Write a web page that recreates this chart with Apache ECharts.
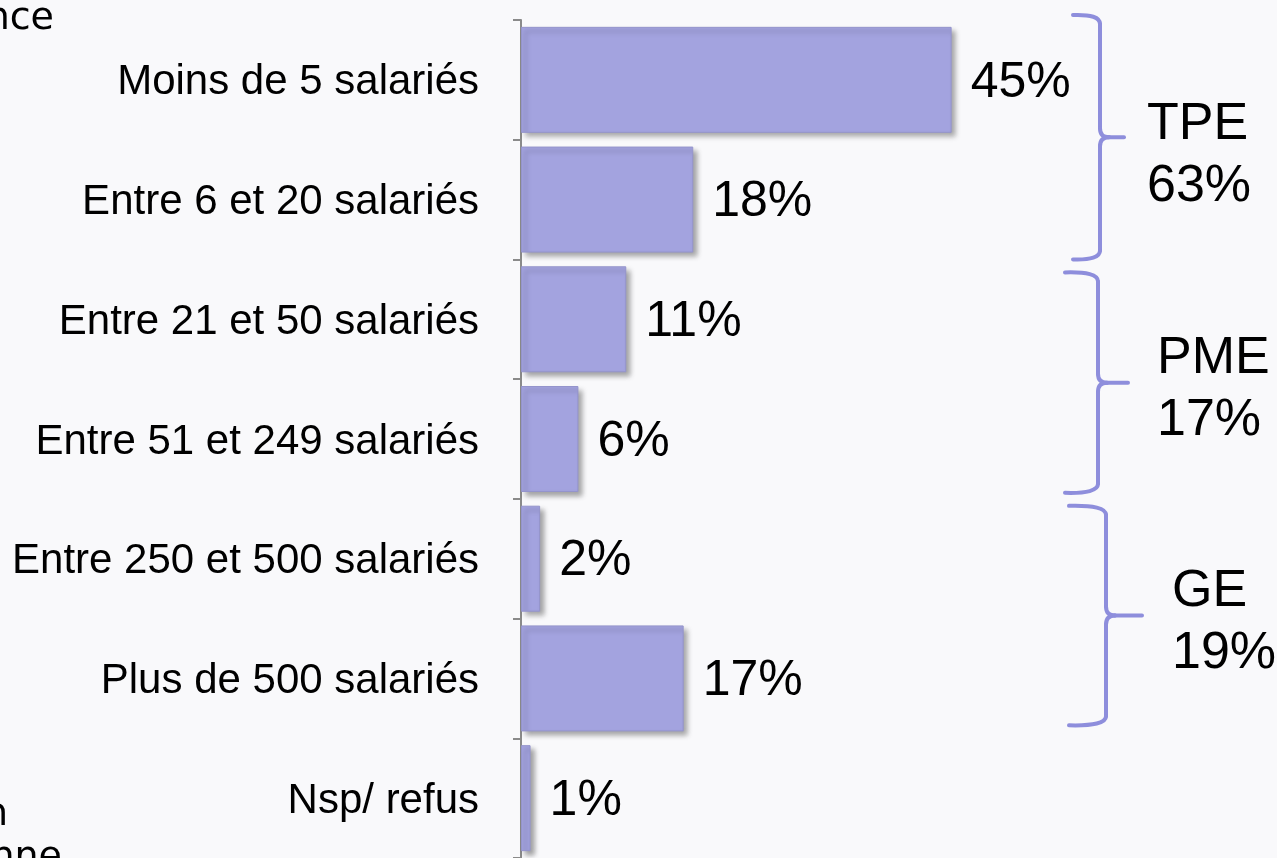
<!DOCTYPE html>
<html><head><meta charset="utf-8">
<script src="https://cdn.jsdelivr.net/npm/echarts@6/dist/echarts.min.js"></script>
<style>html,body{margin:0;padding:0;background:#f9f9fb;overflow:hidden}#c{width:1277px;height:858px}</style>
</head><body><div id="c"></div>
<script>
// ---- data ----
const categories = ['Moins de 5 salariés','Entre 6 et 20 salariés','Entre 21 et 50 salariés','Entre 51 et 249 salariés','Entre 250 et 500 salariés','Plus de 500 salariés','Nsp/ refus'];
const values = [45, 18, 11, 6, 2, 17, 1];
const groupNames = ['TPE', 'PME', 'GE'];
const groupValues = ['63%', '17%', '19%'];
const groupFrom = [0, 2, 4];
const groupTo = [1, 3, 5];
const fragmentTexts = ['nce', 'n', 'anne'];

// ---- layout / style ----
const braceLayout = [
  {x: 1100, hook: 27, tip: 24, insetTop: -5, insetBot: 0, labelX: 1147, dy: 18},
  {x: 1098, hook: 33, tip: 30, insetTop: 13, insetBot: 6, labelX: 1157, dy: 7},
  {x: 1106, hook: 37, tip: 36, insetTop: 7, insetBot: 13, labelX: 1172, dy: 7}
];
const braceColor = '#8e8edc';
const font = '"Liberation Sans", Arial, sans-serif';

const chart = echarts.init(document.getElementById('c'));
chart.setOption({
  backgroundColor: '#f9f9fb',
  animation: false,
  grid: {left: 521, top: 20, right: 0, height: 840, containLabel: false},
  xAxis: {type: 'value', min: 0, max: 79, show: false},
  yAxis: {
    type: 'category', data: categories, inverse: true,
    axisLine: {show: true, lineStyle: {color: '#8a8a8a', width: 2}},
    axisTick: {show: true, length: 8, lineStyle: {color: '#8a8a8a', width: 2}},
    axisLabel: {
      color: '#000', fontSize: 42, fontFamily: font, margin: 42,
      formatter: v => '{a|' + v + '}',
      rich: {a: {color: '#000', fontSize: 42, fontFamily: font, padding: [6, 0, 0, 0]}}
    }
  },
  series: [{
    type: 'bar', data: values, barWidth: 106,
    itemStyle: {
      color: '#a3a3df', borderColor: '#9494cc', borderWidth: 1,
      shadowColor: 'rgba(0,0,0,0.35)', shadowBlur: 5, shadowOffsetX: 4, shadowOffsetY: 4
    },
    label: {show: true, position: 'right', distance: 19, offset: [0, 3], formatter: '{c}%', color: '#000', fontSize: 50, fontFamily: font}
  }]
});

function py(i) { return chart.convertToPixel({yAxisIndex: 0}, i); }
const band = py(1) - py(0);
const graphics = [];
groupNames.forEach((name, g) => {
  const L = braceLayout[g];
  const top = py(groupFrom[g]) - band / 2 + L.insetTop;
  const bot = py(groupTo[g]) + band / 2 - L.insetBot;
  const mid = (top + bot) / 2;
  const x = L.x, r = 9;
  const ls = {stroke: braceColor, lineWidth: 4, fill: null, lineCap: 'round'};
  graphics.push(
    {type: 'bezierCurve', shape: {x1: x - L.hook, y1: top, cpx1: x, cpy1: top - 1, x2: x, y2: top + r}, style: ls},
    {type: 'line', shape: {x1: x, y1: top + r, x2: x, y2: mid - r}, style: ls},
    {type: 'bezierCurve', shape: {x1: x, y1: mid - r, cpx1: x, cpy1: mid, x2: x + r, y2: mid}, style: ls},
    {type: 'line', shape: {x1: x + r, y1: mid, x2: x + L.tip, y2: mid}, style: ls},
    {type: 'bezierCurve', shape: {x1: x + r, y1: mid, cpx1: x, cpy1: mid, x2: x, y2: mid + r}, style: ls},
    {type: 'line', shape: {x1: x, y1: mid + r, x2: x, y2: bot - r}, style: ls},
    {type: 'bezierCurve', shape: {x1: x, y1: bot - r, cpx1: x, cpy1: bot + 1, x2: x - L.hook, y2: bot}, style: ls},
    {type: 'text', x: L.labelX, y: mid + L.dy - 31, style: {text: name, font: '52px ' + font, fill: '#000', textAlign: 'left', textVerticalAlign: 'middle'}},
    {type: 'text', x: L.labelX, y: mid + L.dy + 31, style: {text: groupValues[g], font: '52px ' + font, fill: '#000', textAlign: 'left', textVerticalAlign: 'middle'}}
  );
});
const fragFont = '38px "DejaVu Sans", Verdana, sans-serif';
graphics.push(
  {type: 'text', x: 54, y: 38, style: {text: fragmentTexts[0], font: fragFont, fill: '#000', textAlign: 'right', textVerticalAlign: 'bottom'}},
  {type: 'text', x: 8, y: 834, style: {text: fragmentTexts[1], font: fragFont, fill: '#000', textAlign: 'right', textVerticalAlign: 'bottom'}},
  {type: 'text', x: 62, y: 877, style: {text: fragmentTexts[2], font: fragFont, fill: '#000', textAlign: 'right', textVerticalAlign: 'bottom'}}
);
chart.setOption({graphic: {elements: graphics}});
</script></body></html>
